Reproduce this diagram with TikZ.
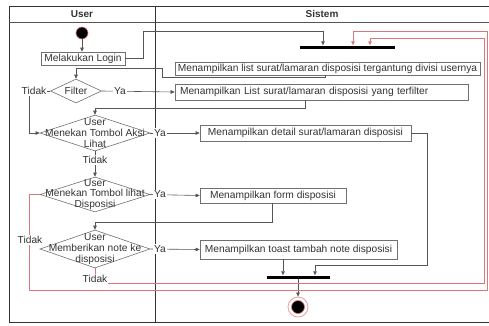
\documentclass[tikz,border=0pt]{standalone}
\usepackage{fontspec}
\setmainfont{Liberation Sans}
\usetikzlibrary{arrows.meta,shapes.geometric}
\definecolor{ln}{HTML}{555555}
\definecolor{bx}{HTML}{707070}
\definecolor{tx}{HTML}{333333}
\definecolor{rd}{HTML}{D9777A}
\definecolor{pl}{HTML}{333333}
\begin{document}
\begin{tikzpicture}[x=1pt,y=-1pt,
  font=\fontsize{10.2}{10.8}\selectfont,
  box/.style={draw=bx, line width=0.6pt, fill=white, text=tx, inner sep=0pt},
  dia/.style={diamond, draw=bx, line width=0.6pt, inner sep=0pt},
  dtext/.style={text=tx, align=center, inner sep=0pt},
  bar/.style={fill=black, draw=none, inner sep=0pt, minimum height=3pt},
  arr/.style={draw=ln, line width=0.6pt, -{Triangle[length=4pt,width=3.5pt]}},
  rarr/.style={draw=rd, line width=0.6pt, -{Triangle[length=4pt,width=3.5pt]}},
  lbl/.style={fill=white, text=tx, inner sep=1pt},
  hdr/.style={font=\fontsize{10}{11}\selectfont\bfseries, text=tx}]
\useasboundingbox (0,0) rectangle (489,325);
% pool
\draw[pl, line width=0.8pt] (9,6) rectangle (489,322);
\draw[ln, line width=0.6pt] (9,22) -- (489,22);
\draw[pl, line width=0.6pt] (155,6) -- (155,322);
\node[hdr] (hu) at (82,14) {User};
\node[hdr] (hs) at (322,14) {Sistem};
% nodes
\node[circle, fill=black, draw=rd, line width=0.6pt, minimum size=12pt, inner sep=0pt] (start) at (82,33) {};
\node[box, minimum width=84pt, minimum height=13pt] (login) at (83,58.5) {Melakukan Login};
\node[bar, minimum width=95pt] (fork) at (347.5,47) {};
\node[box, minimum width=305pt, minimum height=13pt] (list) at (327.5,68.5) {Menampilkan list surat/lamaran disposisi tergantung divisi usernya};
\node[dia, minimum width=51pt, minimum height=24pt] (filter) at (76,91) {};
\node[dtext] at (filter) {Filter};
\node[box, minimum height=16pt, inner xsep=5pt, text width=283pt, align=left] (filt) at (321.5,92) {Menampilkan List surat/lamaran disposisi yang terfilter};
\node[dia, minimum width=110pt, minimum height=36pt] (d1) at (95,133) {};
\node[dtext] at (d1) {User\\Menekan Tombol Aksi\\Lihat};
\node[box, minimum width=211pt, minimum height=16pt] (detail) at (305.5,133) {Menampilkan detail surat/lamaran disposisi};
\node[dia, minimum width=110pt, minimum height=35pt] (d2) at (95,194.5) {};
\node[dtext] at (d2) {User\\Menekan Tombol lihat\\Disposisi};
\node[box, minimum width=146pt, minimum height=15pt] (form) at (273,195.5) {Menampilkan form disposisi};
\node[dia, minimum width=110pt, minimum height=38pt] (d3) at (95,249) {};
\node[dtext] at (d3) {User\\Memberikan note ke\\disposisi};
\node[box, minimum width=197pt, minimum height=19pt] (toast) at (298.5,249.5) {Menampilkan toast tambah note disposisi};
\node[bar, minimum width=63pt] (join) at (298.5,277) {};
\node[circle, draw=rd!70, line width=0.8pt, minimum size=20pt, inner sep=0pt] (end) at (298,307) {};
\node[circle, fill=black, draw=rd, line width=0.6pt, minimum size=13pt, inner sep=0pt] (endin) at (298,307) {};
% connectors
\draw[arr] (start.south) -- (start.south |- login.north);
\draw[arr] (login.east) -| (143,31) -| (323,31 |- fork.north);
\draw[arr] ([xshift=-2.5pt]list.south) -- ++(0,2) -| (162,68) -| (filter.north);
\draw[arr] (filter.east) -- node[lbl, pos=0.25] {Ya} (filt.west);
\draw[arr] (filter.west) -| (29,133) -- (d1.west);
\node[lbl] at (34,91) {Tidak};
\draw[arr] ([xshift=-16.5pt]filt.south) |- (95,108) -- (d1.north);
\draw[arr] (d1.east) -- (detail.west);
\node[lbl] at (160,133) {Ya};
\draw[arr] (d1.south) -- (d2.north);
\node[lbl] at (95,160) {Tidak};
\draw[arr] (detail.east) -| (427,265) -| (315,265 |- join.north);
\draw[arr] (d2.east) -- (form.west);
\node[lbl] at (160,194.5) {Ya};
\draw[arr] ([xshift=-1pt]form.south) |- (95,222) -- (d3.north);
\draw[arr] (d3.east) -- (toast.west);
\node[lbl] at (160,249) {Ya};
\draw[arr] ([xshift=-15.5pt]toast.south) -- ([xshift=-15.5pt]toast.south |- join.north);
\draw[arr] ([xshift=-0.5pt]join.south) -- (end.north);
% red loops
\draw[rarr] (d2.west) -| (29,290) -| (487.5,31) -| (353,31 |- fork.north);
\node[lbl] at (30,240) {Tidak};
\draw[rarr] (d3.south) |- (484,283) |- (370,38) -- (370,38 |- fork.north);
\node[lbl] at (95,279) {Tidak};
\end{tikzpicture}
\end{document}
